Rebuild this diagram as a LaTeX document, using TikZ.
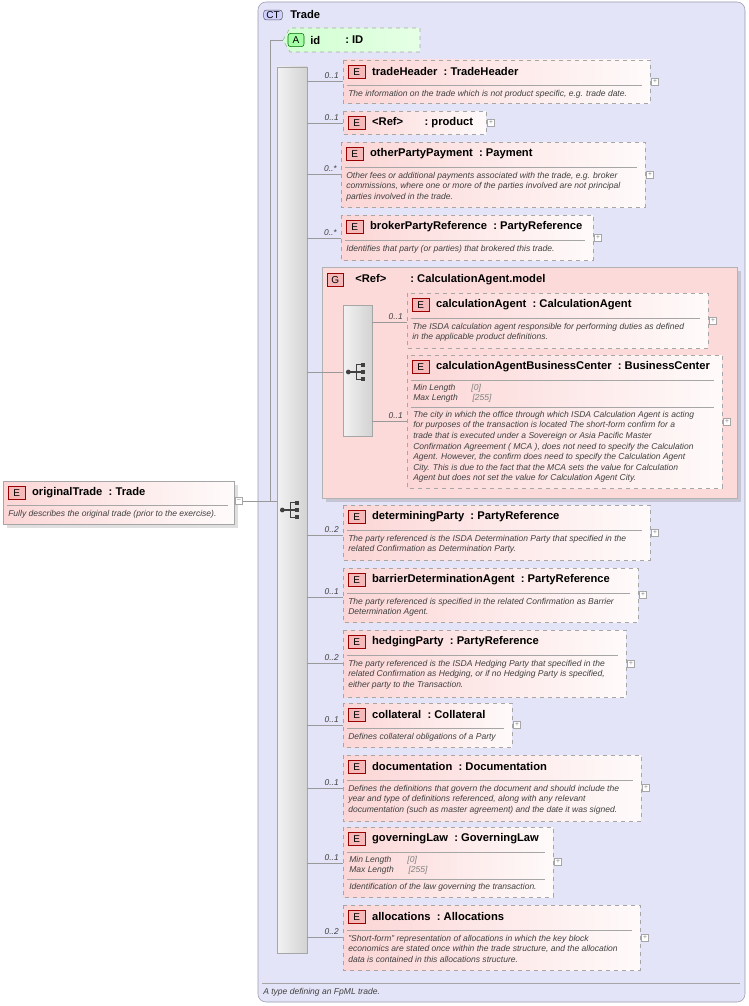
\documentclass[tikz,border=0pt]{standalone}
\usepackage{fontspec}
\setmainfont{Liberation Sans}
\usetikzlibrary{positioning,shadows}
\definecolor{ctfill}{HTML}{E4E4F8}
\definecolor{ctline}{HTML}{9A9AB0}
\definecolor{elpink}{HTML}{FCD6D6}
\definecolor{grpfill}{HTML}{FDDADA}
\definecolor{badgered}{HTML}{F08A8A}
\definecolor{descgray}{HTML}{404040}
\tikzset{
  elbox/.style = {draw=gray!70,dashed,left color=elpink,right color=white!88!elpink},
  badge/.style = {draw=red!60!black,fill=badgered!60,inner sep=0pt,minimum width=12.5pt,minimum height=10pt,font=\fontsize{7.5}{8}\selectfont},
  ttl/.style   = {font=\fontsize{8.4}{9}\selectfont\bfseries,inner sep=0pt,anchor=west},
  desc/.style  = {font=\fontsize{6.4}{7.9}\itshape\selectfont,text=descgray,align=left,inner sep=0pt,anchor=north west},
  card/.style  = {font=\fontsize{6.3}{7}\itshape\selectfont,text=descgray,inner sep=0pt,anchor=south east},
  conn/.style  = {draw=gray!80,line width=0.5pt},
  pm/.style    = {draw=gray!70,fill=white,minimum size=5.5pt,inner sep=0pt,font=\fontsize{5}{5}\selectfont,text=gray},
  seqbar/.style= {draw=gray!70,left color=white!90!gray,right color=gray!35}
}
% one element box: name, x1, y1, x2, y2, connector y, card, title, description
\newcommand\elem[9]{%
  \draw[elbox] (#2,#3) rectangle (#4,#5);
  \node[badge,anchor=north west] (#1-b) at (#2+5,#3+5) {E};
  \node[ttl] (#1) at ([xshift=5pt]#1-b.east) {#8};
  \draw[gray!70] (#2+4,#3+25) -- (#4-8,#3+25);
  \node[desc] (#1-d) at (#2+5,#3+30) {#9};
  \node[pm] (#1-p) at (#4+5,{(#3+#5)/2}) {+};
  \coordinate (#1-in) at (#2,#6);
  \node[card] at (#2-4,#6-2) {#7};
}
\newcommand\seqicon[1]{%
  \fill[black!75] ([xshift=-8pt]#1) circle (1.8pt);
  \draw[black!75,line width=0.8pt] ([xshift=-8pt]#1) -- ([xshift=-2pt]#1)
     ([xshift=-2pt,yshift=5.5pt]#1) -- ([xshift=-2pt,yshift=-5.5pt]#1);
  \foreach \dy in {5.5,0,-5.5}
    \draw[black!75,line width=0.8pt] ([xshift=-2pt,yshift=\dy pt]#1) -- ([xshift=1.5pt,yshift=\dy pt]#1);
  \foreach \dy in {5.5,0,-5.5}
    \fill[black!75] ([xshift=1.5pt,yshift=\dy pt-1.5pt]#1) rectangle ([xshift=4.5pt,yshift=\dy pt+1.5pt]#1);
}
\begin{document}
\begin{tikzpicture}[x=0.75pt,y=-0.75pt]
\useasboundingbox[fill=white] (0,0) rectangle (749,1006);
% complex type frame
\draw[draw=ctline,fill=ctfill,rounded corners=6pt] (258,2) rectangle (745,1002);
\node[draw=ctline!60!black,fill=blue!18,rounded corners=2pt,inner sep=1pt,minimum width=14pt,font=\fontsize{7.5}{8}\selectfont] (ct) at (273,15) {CT};
\node[ttl] (trade) at (290,14) {Trade};
\draw[gray!70] (262,983) -- (740,983);
\node[desc,anchor=west] (ctdesc) at (263,992) {A type defining an FpML trade.};

% original element
\draw[draw=gray!70,left color=elpink,right color=white!90!elpink,drop shadow={opacity=0.25}] (3,481) rectangle (234,524);
\node[badge,anchor=north west] (ot-b) at (8,486) {E};
\node[ttl] (ot) at ([xshift=5pt]ot-b.east) {originalTrade\ \ :\ Trade};
\draw[gray!70] (7,505) -- (228,505);
\node[desc] (ot-d) at (8,510) {Fully describes the original trade (prior to the exercise).};
\node[pm] (ot-m) at (239,501) {--};

% attribute
\draw[dashed,draw=gray!70,left color=green!18,right color=white!90!green] (283,40) -- (290,28) -- (420,28) -- (420,52) -- (290,52) -- cycle;
\node[draw=green!40!black,fill=green!35,rounded corners=2pt,inner sep=0pt,minimum width=12pt,minimum height=10pt,font=\fontsize{7.5}{8}\selectfont] (at-b) at (296,40) {A};
\node[ttl] (id) at (310,40) {id};
\node[ttl] (idt) at (345,40) {:\ ID};

% sequence bar
\draw[seqbar] (277,67) rectangle (307,953);
\coordinate (seq) at (293,510);
\seqicon{seq}
\coordinate (vtop) at (270,40);
\coordinate (vbot) at (270,501);
\draw[conn] (ot-m.east) -- (277,501);
\draw[conn] (vtop) -- (vbot);
\draw[conn] (vtop) -- (283,40);

\elem{th}{343}{60}{650}{103}{81}{0..1}{tradeHeader\ \ :\ TradeHeader}{The information on the trade which is not product specific, e.g. trade date.}
\draw[elbox] (343,111) rectangle (486,134);
\node[badge,anchor=north west] (pr-b) at (348,116) {E};
\node[ttl] (pr) at ([xshift=5pt]pr-b.east) {<Ref>\hspace{16pt}:\ product};
\node[pm] (pr-p) at (491,123) {+};
\coordinate (pr-in) at (343,123);
\node[card] at (339,121) {0..1};
\elem{op}{341}{142}{645}{207}{174}{0..*}{otherPartyPayment\ \ :\ Payment}{Other fees or additional payments associated with the trade, e.g. broker\\commissions, where one or more of the parties involved are not principal\\parties involved in the trade.}
\elem{bp}{341}{215}{593}{260}{238}{0..*}{brokerPartyReference\ \ :\ PartyReference}{Identifies that party (or parties) that brokered this trade.}

% group
\draw[draw=gray!60,fill=grpfill,drop shadow={opacity=0.3}] (322,267) rectangle (737,498);
\node[draw=red!60!black,fill=badgered!60,inner sep=0pt,minimum width=12pt,minimum height=10pt,font=\fontsize{7.5}{8}\selectfont,anchor=north west] (g-b) at (327,273) {G};
\node[ttl] (grp) at (355,280) {<Ref>\hspace{18pt}:\ CalculationAgent.model};
\coordinate (grp-in) at (322,372);
\draw[seqbar] (343,305) rectangle (372,436);
\coordinate (gseq) at (359,372);
\seqicon{gseq}
\elem{ca}{407}{293}{708}{348}{322}{0..1}{calculationAgent\ \ :\ CalculationAgent}{The ISDA calculation agent responsible for performing duties as defined\\in the applicable product definitions.}
\elem{bc}{407}{355}{722}{488}{421}{0..1}{calculationAgentBusinessCenter\ \ :\ BusinessCenter}{}
\node[desc] (bc-r) at (413,384) {Min Length\hspace{12pt}{\color{gray}[0]}\\Max Length\hspace{11pt}{\color{gray}[255]}};
\draw[gray!70] (411,407) -- (714,407);
\node[desc] (bc-t) at (413,411) {The city in which the office through which ISDA Calculation Agent is acting\\for purposes of the transaction is located The short-form confirm for a\\trade that is executed under a Sovereign or Asia Pacific Master\\Confirmation Agreement ( MCA ), does not need to specify the Calculation\\Agent. However, the confirm does need to specify the Calculation Agent\\City. This is due to the fact that the MCA sets the value for Calculation\\Agent but does not set the value for Calculation Agent City.};
\draw[conn] (grp-in) -- (grp-in -| 343,0);
\foreach \n in {ca,bc}
  \draw[conn] (\n-in -| 372,0) -- (\n-in);

\elem{dp}{343}{505}{650}{560}{535}{0..2}{determiningParty\ \ :\ PartyReference}{The party referenced is the ISDA Determination Party that specified in the\\related Confirmation as Determination Party.}
\elem{ba}{343}{568}{638}{622}{597}{0..1}{barrierDeterminationAgent\ \ :\ PartyReference}{The party referenced is specified in the related Confirmation as Barrier\\Determination Agent.}
\elem{hp}{343}{630}{626}{697}{663}{0..2}{hedgingParty\ \ :\ PartyReference}{The party referenced is the ISDA Hedging Party that specified in the\\related Confirmation as Hedging, or if no Hedging Party is specified,\\either party to the Transaction.}
\elem{co}{343}{703}{512}{747}{725}{0..1}{collateral\ \ :\ Collateral}{Defines collateral obligations of a Party}
\elem{dc}{343}{755}{641}{821}{788}{0..1}{documentation\ \ :\ Documentation}{Defines the definitions that govern the document and should include the\\year and type of definitions referenced, along with any relevant\\documentation (such as master agreement) and the date it was signed.}
\elem{gl}{343}{827}{553}{897}{863}{0..1}{governingLaw\ \ :\ GoverningLaw}{}
\node[desc] (gl-r) at (349,856) {Min Length\hspace{12pt}{\color{gray}[0]}\\Max Length\hspace{11pt}{\color{gray}[255]}};
\draw[gray!70] (347,879) -- (545,879);
\node[desc] (gl-t) at (349,883) {Identification of the law governing the transaction.};
\elem{al}{343}{905}{640}{970}{937}{0..2}{allocations\ \ :\ Allocations}{"Short-form" representation of allocations in which the key block\\economics are stated once within the trade structure, and the allocation\\data is contained in this allocations structure.}

% connectors from the sequence
\foreach \n in {th,pr,op,bp,grp,dp,ba,hp,co,dc,gl,al}
  \draw[conn] (\n-in -| 307,0) -- (\n-in);
\end{tikzpicture}
\end{document}
